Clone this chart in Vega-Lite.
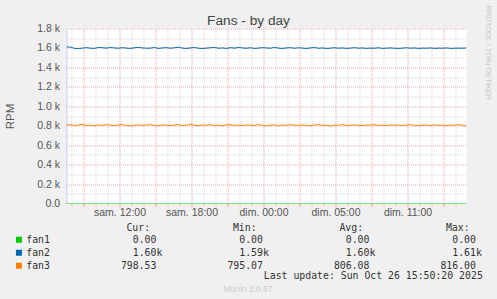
{
  "$schema": "https://vega.github.io/schema/vega-lite/v6.json",
  "width": 400,
  "height": 175,
  "autosize": {"type": "none"},
  "padding": {"left": 66.5, "top": 28.5, "right": 30.5, "bottom": 95.5},
  "background": "#f0f0f0",
  "config": {
    "view": {"fill": "white", "stroke": null},
    "axis": {"labelFont": "Liberation Sans", "titleFont": "Liberation Sans", "titleFontWeight": "normal"}
  },
  "data": {"values": [
    {"t":"2025-10-25T05:35Z","fan1":0,"fan2":1610,"fan3":806},
    {"t":"2025-10-25T05:55Z","fan1":0,"fan2":1609,"fan3":811},
    {"t":"2025-10-25T06:15Z","fan1":0,"fan2":1595,"fan3":801},
    {"t":"2025-10-25T06:35Z","fan1":0,"fan2":1594,"fan3":808},
    {"t":"2025-10-25T06:55Z","fan1":0,"fan2":1598,"fan3":814},
    {"t":"2025-10-25T07:15Z","fan1":0,"fan2":1603,"fan3":803},
    {"t":"2025-10-25T07:35Z","fan1":0,"fan2":1597,"fan3":806},
    {"t":"2025-10-25T07:55Z","fan1":0,"fan2":1595,"fan3":800},
    {"t":"2025-10-25T08:15Z","fan1":0,"fan2":1606,"fan3":809},
    {"t":"2025-10-25T08:35Z","fan1":0,"fan2":1602,"fan3":804},
    {"t":"2025-10-25T08:55Z","fan1":0,"fan2":1598,"fan3":812},
    {"t":"2025-10-25T09:15Z","fan1":0,"fan2":1605,"fan3":806},
    {"t":"2025-10-25T09:35Z","fan1":0,"fan2":1600,"fan3":801},
    {"t":"2025-10-25T09:55Z","fan1":0,"fan2":1597,"fan3":808},
    {"t":"2025-10-25T10:15Z","fan1":0,"fan2":1603,"fan3":811},
    {"t":"2025-10-25T10:35Z","fan1":0,"fan2":1598,"fan3":804},
    {"t":"2025-10-25T10:55Z","fan1":0,"fan2":1595,"fan3":798},
    {"t":"2025-10-25T11:15Z","fan1":0,"fan2":1602,"fan3":806},
    {"t":"2025-10-25T11:35Z","fan1":0,"fan2":1606,"fan3":809},
    {"t":"2025-10-25T11:55Z","fan1":0,"fan2":1600,"fan3":803},
    {"t":"2025-10-25T12:15Z","fan1":0,"fan2":1597,"fan3":808},
    {"t":"2025-10-25T12:35Z","fan1":0,"fan2":1598,"fan3":812},
    {"t":"2025-10-25T12:55Z","fan1":0,"fan2":1605,"fan3":804},
    {"t":"2025-10-25T13:15Z","fan1":0,"fan2":1595,"fan3":801},
    {"t":"2025-10-25T13:35Z","fan1":0,"fan2":1600,"fan3":809},
    {"t":"2025-10-25T13:55Z","fan1":0,"fan2":1603,"fan3":806},
    {"t":"2025-10-25T14:15Z","fan1":0,"fan2":1597,"fan3":800},
    {"t":"2025-10-25T14:35Z","fan1":0,"fan2":1602,"fan3":808},
    {"t":"2025-10-25T14:55Z","fan1":0,"fan2":1608,"fan3":811},
    {"t":"2025-10-25T15:15Z","fan1":0,"fan2":1598,"fan3":803},
    {"t":"2025-10-25T15:35Z","fan1":0,"fan2":1595,"fan3":806},
    {"t":"2025-10-25T15:55Z","fan1":0,"fan2":1600,"fan3":816},
    {"t":"2025-10-25T16:15Z","fan1":0,"fan2":1605,"fan3":804},
    {"t":"2025-10-25T16:35Z","fan1":0,"fan2":1597,"fan3":801},
    {"t":"2025-10-25T16:55Z","fan1":0,"fan2":1594,"fan3":808},
    {"t":"2025-10-25T17:15Z","fan1":0,"fan2":1598,"fan3":804},
    {"t":"2025-10-25T17:35Z","fan1":0,"fan2":1602,"fan3":811},
    {"t":"2025-10-25T17:55Z","fan1":0,"fan2":1606,"fan3":803},
    {"t":"2025-10-25T18:15Z","fan1":0,"fan2":1597,"fan3":806},
    {"t":"2025-10-25T18:35Z","fan1":0,"fan2":1600,"fan3":800},
    {"t":"2025-10-25T18:55Z","fan1":0,"fan2":1595,"fan3":808},
    {"t":"2025-10-25T19:15Z","fan1":0,"fan2":1603,"fan3":812},
    {"t":"2025-10-25T19:35Z","fan1":0,"fan2":1598,"fan3":804},
    {"t":"2025-10-25T19:55Z","fan1":0,"fan2":1605,"fan3":806},
    {"t":"2025-10-25T20:15Z","fan1":0,"fan2":1600,"fan3":801},
    {"t":"2025-10-25T20:35Z","fan1":0,"fan2":1597,"fan3":809},
    {"t":"2025-10-25T20:55Z","fan1":0,"fan2":1602,"fan3":806},
    {"t":"2025-10-25T21:15Z","fan1":0,"fan2":1595,"fan3":803},
    {"t":"2025-10-25T21:35Z","fan1":0,"fan2":1598,"fan3":811},
    {"t":"2025-10-25T21:55Z","fan1":0,"fan2":1603,"fan3":804},
    {"t":"2025-10-25T22:15Z","fan1":0,"fan2":1600,"fan3":798},
    {"t":"2025-10-25T22:35Z","fan1":0,"fan2":1597,"fan3":806},
    {"t":"2025-10-25T22:55Z","fan1":0,"fan2":1606,"fan3":809},
    {"t":"2025-10-25T23:15Z","fan1":0,"fan2":1598,"fan3":801},
    {"t":"2025-10-25T23:35Z","fan1":0,"fan2":1595,"fan3":808},
    {"t":"2025-10-25T23:55Z","fan1":0,"fan2":1600,"fan3":804},
    {"t":"2025-10-26T00:15Z","fan1":0,"fan2":1603,"fan3":811},
    {"t":"2025-10-26T00:35Z","fan1":0,"fan2":1597,"fan3":806},
    {"t":"2025-10-26T00:55Z","fan1":0,"fan2":1602,"fan3":803},
    {"t":"2025-10-26T01:15Z","fan1":0,"fan2":1598,"fan3":809},
    {"t":"2025-10-26T01:35Z","fan1":0,"fan2":1595,"fan3":804},
    {"t":"2025-10-26T01:55Z","fan1":0,"fan2":1600,"fan3":801},
    {"t":"2025-10-26T02:15Z","fan1":0,"fan2":1605,"fan3":808},
    {"t":"2025-10-26T02:35Z","fan1":0,"fan2":1597,"fan3":812},
    {"t":"2025-10-26T02:55Z","fan1":0,"fan2":1600,"fan3":804},
    {"t":"2025-10-26T03:15Z","fan1":0,"fan2":1594,"fan3":806},
    {"t":"2025-10-26T03:35Z","fan1":0,"fan2":1598,"fan3":795},
    {"t":"2025-10-26T03:55Z","fan1":0,"fan2":1602,"fan3":808},
    {"t":"2025-10-26T04:15Z","fan1":0,"fan2":1597,"fan3":804},
    {"t":"2025-10-26T04:35Z","fan1":0,"fan2":1600,"fan3":811},
    {"t":"2025-10-26T04:55Z","fan1":0,"fan2":1595,"fan3":803},
    {"t":"2025-10-26T05:15Z","fan1":0,"fan2":1598,"fan3":806},
    {"t":"2025-10-26T05:35Z","fan1":0,"fan2":1603,"fan3":809},
    {"t":"2025-10-26T05:55Z","fan1":0,"fan2":1597,"fan3":804},
    {"t":"2025-10-26T06:15Z","fan1":0,"fan2":1600,"fan3":801},
    {"t":"2025-10-26T06:35Z","fan1":0,"fan2":1595,"fan3":808},
    {"t":"2025-10-26T06:55Z","fan1":0,"fan2":1598,"fan3":806},
    {"t":"2025-10-26T07:15Z","fan1":0,"fan2":1597,"fan3":811},
    {"t":"2025-10-26T07:35Z","fan1":0,"fan2":1602,"fan3":803},
    {"t":"2025-10-26T07:55Z","fan1":0,"fan2":1595,"fan3":806},
    {"t":"2025-10-26T08:15Z","fan1":0,"fan2":1598,"fan3":801},
    {"t":"2025-10-26T08:35Z","fan1":0,"fan2":1600,"fan3":809},
    {"t":"2025-10-26T08:55Z","fan1":0,"fan2":1597,"fan3":804},
    {"t":"2025-10-26T09:15Z","fan1":0,"fan2":1595,"fan3":808},
    {"t":"2025-10-26T09:35Z","fan1":0,"fan2":1598,"fan3":803},
    {"t":"2025-10-26T09:55Z","fan1":0,"fan2":1602,"fan3":806},
    {"t":"2025-10-26T10:15Z","fan1":0,"fan2":1597,"fan3":811},
    {"t":"2025-10-26T10:35Z","fan1":0,"fan2":1600,"fan3":804},
    {"t":"2025-10-26T10:55Z","fan1":0,"fan2":1595,"fan3":801},
    {"t":"2025-10-26T11:15Z","fan1":0,"fan2":1598,"fan3":808},
    {"t":"2025-10-26T11:35Z","fan1":0,"fan2":1597,"fan3":806},
    {"t":"2025-10-26T11:55Z","fan1":0,"fan2":1600,"fan3":803},
    {"t":"2025-10-26T12:15Z","fan1":0,"fan2":1595,"fan3":809},
    {"t":"2025-10-26T12:35Z","fan1":0,"fan2":1598,"fan3":804},
    {"t":"2025-10-26T12:55Z","fan1":0,"fan2":1597,"fan3":806},
    {"t":"2025-10-26T13:15Z","fan1":0,"fan2":1600,"fan3":801},
    {"t":"2025-10-26T13:35Z","fan1":0,"fan2":1595,"fan3":808},
    {"t":"2025-10-26T13:55Z","fan1":0,"fan2":1597,"fan3":804},
    {"t":"2025-10-26T14:15Z","fan1":0,"fan2":1598,"fan3":811},
    {"t":"2025-10-26T14:35Z","fan1":0,"fan2":1597,"fan3":806},
    {"t":"2025-10-26T14:55Z","fan1":0,"fan2":1600,"fan3":799}
  ]},
  "transform": [{"fold": ["fan1", "fan2", "fan3"], "as": ["series", "rpm"]}],
  "resolve": {"axis": {"x": "independent", "y": "independent"}},
  "layer": [
    {
      "mark": {"type": "point", "opacity": 0},
      "encoding": {
        "x": {"field": "t", "type": "temporal",
          "scale": {"type": "utc", "domain": [{"year": 2025, "month": 10, "date": 25, "hours": 5, "minutes": 35, "utc": true}, {"year": 2025, "month": 10, "date": 26, "hours": 14, "minutes": 55, "utc": true}]},
          "axis": {"orient": "bottom", "values": [
            {"year": 2025, "month": 10, "date": 25, "hours": 6, "utc": true},
            {"year": 2025, "month": 10, "date": 25, "hours": 8, "utc": true},
            {"year": 2025, "month": 10, "date": 25, "hours": 9, "utc": true},
            {"year": 2025, "month": 10, "date": 25, "hours": 11, "utc": true},
            {"year": 2025, "month": 10, "date": 25, "hours": 12, "utc": true},
            {"year": 2025, "month": 10, "date": 25, "hours": 14, "utc": true},
            {"year": 2025, "month": 10, "date": 25, "hours": 15, "utc": true},
            {"year": 2025, "month": 10, "date": 25, "hours": 17, "utc": true},
            {"year": 2025, "month": 10, "date": 25, "hours": 18, "utc": true},
            {"year": 2025, "month": 10, "date": 25, "hours": 20, "utc": true},
            {"year": 2025, "month": 10, "date": 25, "hours": 21, "utc": true},
            {"year": 2025, "month": 10, "date": 25, "hours": 23, "utc": true},
            {"year": 2025, "month": 10, "date": 26, "hours": 0, "utc": true},
            {"year": 2025, "month": 10, "date": 26, "hours": 2, "utc": true},
            {"year": 2025, "month": 10, "date": 26, "hours": 3, "utc": true},
            {"year": 2025, "month": 10, "date": 26, "hours": 5, "utc": true},
            {"year": 2025, "month": 10, "date": 26, "hours": 6, "utc": true},
            {"year": 2025, "month": 10, "date": 26, "hours": 8, "utc": true},
            {"year": 2025, "month": 10, "date": 26, "hours": 9, "utc": true},
            {"year": 2025, "month": 10, "date": 26, "hours": 11, "utc": true},
            {"year": 2025, "month": 10, "date": 26, "hours": 12, "utc": true},
            {"year": 2025, "month": 10, "date": 26, "hours": 14, "utc": true}
          ], "grid": true, "gridColor": "#d4d4d4", "gridDash": [1, 1], "gridWidth": 1,
            "labels": false, "ticks": true, "tickSize": 2, "tickColor": "#d0d0d0", "domain": false, "title": null}},
        "y": {"field": "rpm", "type": "quantitative", "scale": {"domain": [0, 1800], "nice": false},
          "axis": {"orient": "left", "values": [100, 300, 500, 700, 900, 1100, 1300, 1500, 1700], "grid": true, "gridColor": "#d4d4d4", "gridDash": [1, 1], "gridWidth": 1,
            "labels": false, "ticks": false, "domain": false, "title": null}}
      }
    },
    {
      "mark": {"type": "point", "opacity": 0},
      "encoding": {
        "x": {"field": "t", "type": "temporal",
          "scale": {"type": "utc", "domain": [{"year": 2025, "month": 10, "date": 25, "hours": 5, "minutes": 35, "utc": true}, {"year": 2025, "month": 10, "date": 26, "hours": 14, "minutes": 55, "utc": true}]},
          "axis": {"orient": "bottom", "values": [
            {"year": 2025, "month": 10, "date": 25, "hours": 7, "utc": true},
            {"year": 2025, "month": 10, "date": 25, "hours": 10, "utc": true},
            {"year": 2025, "month": 10, "date": 25, "hours": 13, "utc": true},
            {"year": 2025, "month": 10, "date": 25, "hours": 16, "utc": true},
            {"year": 2025, "month": 10, "date": 25, "hours": 19, "utc": true},
            {"year": 2025, "month": 10, "date": 25, "hours": 22, "utc": true},
            {"year": 2025, "month": 10, "date": 26, "hours": 1, "utc": true},
            {"year": 2025, "month": 10, "date": 26, "hours": 4, "utc": true},
            {"year": 2025, "month": 10, "date": 26, "hours": 7, "utc": true},
            {"year": 2025, "month": 10, "date": 26, "hours": 10, "utc": true},
            {"year": 2025, "month": 10, "date": 26, "hours": 13, "utc": true}
          ], "grid": true, "gridColor": "#e6a4a4", "gridDash": [1, 1], "gridWidth": 1,
            "labels": false, "ticks": true, "tickSize": 3, "tickColor": "#e6a4a4", "domain": false, "title": null}},
        "y": {"field": "rpm", "type": "quantitative", "scale": {"domain": [0, 1800], "nice": false},
          "axis": {"orient": "left", "values": [200, 400, 600, 800, 1000, 1200, 1400, 1600, 1800], "grid": true, "gridColor": "#e6a4a4", "gridDash": [1, 1], "gridWidth": 1,
            "labels": false, "ticks": false, "domain": false, "title": null}}
      }
    },
    {
      "mark": {"type": "line", "strokeWidth": 1, "clip": true, "interpolate": "linear"},
      "encoding": {
        "x": {"field": "t", "type": "temporal",
          "scale": {"type": "utc", "domain": [{"year": 2025, "month": 10, "date": 25, "hours": 5, "minutes": 35, "utc": true}, {"year": 2025, "month": 10, "date": 26, "hours": 14, "minutes": 55, "utc": true}]},
          "axis": {"orient": "bottom", "values": [
            {"year": 2025, "month": 10, "date": 25, "hours": 10, "utc": true},
            {"year": 2025, "month": 10, "date": 25, "hours": 16, "utc": true},
            {"year": 2025, "month": 10, "date": 25, "hours": 22, "utc": true},
            {"year": 2025, "month": 10, "date": 26, "hours": 4, "utc": true},
            {"year": 2025, "month": 10, "date": 26, "hours": 10, "utc": true}
          ],
            "labelExpr": "utcFormat(datum.value,'%d%H')=='2510'?'sam. 12:00':utcFormat(datum.value,'%d%H')=='2516'?'sam. 18:00':utcFormat(datum.value,'%d%H')=='2522'?'dim. 00:00':utcFormat(datum.value,'%d%H')=='2604'?'dim. 05:00':'dim. 11:00'",
            "grid": false, "ticks": false, "tickSize": 0, "domain": false,
            "labelFontSize": 10.5, "labelColor": "#555555", "labelPadding": 4, "labelFlush": false, "labelOverlap": false, "title": null}},
        "y": {"field": "rpm", "type": "quantitative", "scale": {"domain": [0, 1800], "nice": false},
          "axis": {"orient": "left", "values": [0, 200, 400, 600, 800, 1000, 1200, 1400, 1600, 1800],
            "labelExpr": "datum.value==0?'0.0':format(datum.value/1000,'.1f')+' k'",
            "grid": false, "ticks": false, "tickSize": 0, "domain": true, "domainColor": "#c8c8f0", "domainWidth": 1,
            "labelFontSize": 10.5, "labelColor": "#555555", "labelPadding": 7, "labelFlush": false, "labelOverlap": false,
            "title": "RPM", "titleFontSize": 11.5, "titleColor": "#555555", "titleX": -56.5, "titleY": 87.5, "titleAngle": 270, "titleAlign": "center", "titleBaseline": "middle"}},
        "color": {"field": "series", "type": "nominal",
          "scale": {"domain": ["fan1", "fan2", "fan3"], "range": ["#00cc00", "#0066b3", "#ff8000"]},
          "legend": {"orient": "none", "legendX": -52.5, "legendY": 194, "direction": "vertical", "padding": 0,
            "title": "\u200b\u00a0\u00a0\u00a0\u00a0\u00a0\u00a0\u00a0\u00a0\u00a0\u00a0\u00a0\u00a0\u00a0\u00a0\u00a0\u00a0\u00a0\u00a0\u00a0Cur:\u00a0\u00a0\u00a0\u00a0\u00a0\u00a0\u00a0\u00a0\u00a0\u00a0\u00a0\u00a0\u00a0\u00a0Min:\u00a0\u00a0\u00a0\u00a0\u00a0\u00a0\u00a0\u00a0\u00a0\u00a0\u00a0\u00a0\u00a0\u00a0Avg:\u00a0\u00a0\u00a0\u00a0\u00a0\u00a0\u00a0\u00a0\u00a0\u00a0\u00a0\u00a0\u00a0\u00a0Max:",
            "titleFont": "DejaVu Sans Mono", "titleFontSize": 9.83, "titleFontWeight": "normal", "titleColor": "#333333", "titleLimit": 1000, "titlePadding": 2.5,
            "labelFont": "DejaVu Sans Mono", "labelFontSize": 9.83, "labelColor": "#333333", "labelLimit": 1000, "labelOffset": 2.4,
            "symbolType": "square", "symbolSize": 36, "symbolStrokeWidth": 0, "symbolOpacity": 1, "rowPadding": 2,
            "labelExpr": "datum.label=='fan1'?'fan1\u00a0\u00a0\u00a0\u00a0\u00a0\u00a0\u00a0\u00a0\u00a0\u00a0\u00a0\u00a0\u00a0\u00a00.00\u00a0\u00a0\u00a0\u00a0\u00a0\u00a0\u00a0\u00a0\u00a0\u00a0\u00a0\u00a0\u00a0\u00a00.00\u00a0\u00a0\u00a0\u00a0\u00a0\u00a0\u00a0\u00a0\u00a0\u00a0\u00a0\u00a0\u00a0\u00a00.00\u00a0\u00a0\u00a0\u00a0\u00a0\u00a0\u00a0\u00a0\u00a0\u00a0\u00a0\u00a0\u00a0\u00a00.00':datum.label=='fan2'?'fan2\u00a0\u00a0\u00a0\u00a0\u00a0\u00a0\u00a0\u00a0\u00a0\u00a0\u00a0\u00a0\u00a0\u00a01.60k\u00a0\u00a0\u00a0\u00a0\u00a0\u00a0\u00a0\u00a0\u00a0\u00a0\u00a0\u00a0\u00a01.59k\u00a0\u00a0\u00a0\u00a0\u00a0\u00a0\u00a0\u00a0\u00a0\u00a0\u00a0\u00a0\u00a01.60k\u00a0\u00a0\u00a0\u00a0\u00a0\u00a0\u00a0\u00a0\u00a0\u00a0\u00a0\u00a0\u00a01.61k':'fan3\u00a0\u00a0\u00a0\u00a0\u00a0\u00a0\u00a0\u00a0\u00a0\u00a0\u00a0\u00a0798.53\u00a0\u00a0\u00a0\u00a0\u00a0\u00a0\u00a0\u00a0\u00a0\u00a0\u00a0\u00a0795.07\u00a0\u00a0\u00a0\u00a0\u00a0\u00a0\u00a0\u00a0\u00a0\u00a0\u00a0\u00a0806.08\u00a0\u00a0\u00a0\u00a0\u00a0\u00a0\u00a0\u00a0\u00a0\u00a0\u00a0\u00a0816.00'",
            "encode": {"symbols": {"update": {"fill": {"scale": "color", "field": "value"}, "opacity": {"value": 1}}}}
          }}
      }
    },
    {
      "mark": {"type": "point", "opacity": 0},
      "encoding": {
        "x": {"field": "t", "type": "temporal",
          "scale": {"type": "utc", "domain": [{"year": 2025, "month": 10, "date": 25, "hours": 5, "minutes": 35, "utc": true}, {"year": 2025, "month": 10, "date": 26, "hours": 14, "minutes": 55, "utc": true}]},
          "axis": {"orient": "top", "labels": false, "ticks": false, "domain": false, "grid": false,
            "title": "Fans - by day", "titleX": 181.5, "titleY": -4.5, "titleAlign": "center", "titleBaseline": "alphabetic",
            "titleFontSize": 13.7, "titleColor": "#444444", "titleFont": "Liberation Sans", "titleFontWeight": "normal"}},
        "y": {"field": "rpm", "type": "quantitative", "scale": {"domain": [0, 1800], "nice": false},
          "axis": {"orient": "right", "labels": false, "ticks": false, "domain": false, "grid": false,
            "title": "RRDTOOL / TOBI OETIKER", "titleX": 20.8, "titleY": -23.5, "titleAngle": 90, "titleAlign": "left", "titleBaseline": "middle",
            "titleFontSize": 7.5, "titleColor": "#c8c8c8", "titleFont": "Liberation Sans", "titleFontWeight": "normal"}}
      }
    },
    {
      "mark": {"type": "point", "opacity": 0},
      "encoding": {
        "x": {"field": "t", "type": "temporal",
          "scale": {"type": "utc", "domain": [{"year": 2025, "month": 10, "date": 25, "hours": 5, "minutes": 35, "utc": true}, {"year": 2025, "month": 10, "date": 26, "hours": 14, "minutes": 55, "utc": true}]},
          "axis": {"orient": "bottom", "labels": false, "ticks": false, "domain": false, "grid": false,
            "title": "Last update: Sun Oct 26 15:50:20 2025", "titleX": 415.8, "titleY": 72.2, "titleAlign": "right", "titleBaseline": "middle",
            "titleFontSize": 9.83, "titleColor": "#333333", "titleFont": "DejaVu Sans Mono", "titleFontWeight": "normal"}},
        "y": {"field": "rpm", "type": "quantitative", "scale": {"domain": [0, 1800], "nice": false}, "axis": null}
      }
    },
    {
      "mark": {"type": "point", "opacity": 0},
      "encoding": {
        "x": {"field": "t", "type": "temporal",
          "scale": {"type": "utc", "domain": [{"year": 2025, "month": 10, "date": 25, "hours": 5, "minutes": 35, "utc": true}, {"year": 2025, "month": 10, "date": 26, "hours": 14, "minutes": 55, "utc": true}]},
          "axis": {"orient": "bottom", "labels": false, "ticks": false, "domain": false, "grid": false,
            "title": "Munin 2.0.67", "titleX": 181, "titleY": 84.5, "titleAlign": "center", "titleBaseline": "middle",
            "titleFontSize": 8.5, "titleColor": "#cccccc", "titleFont": "Liberation Sans", "titleFontWeight": "normal"}},
        "y": {"field": "rpm", "type": "quantitative", "scale": {"domain": [0, 1800], "nice": false}, "axis": null}
      }
    }
  ]
}
